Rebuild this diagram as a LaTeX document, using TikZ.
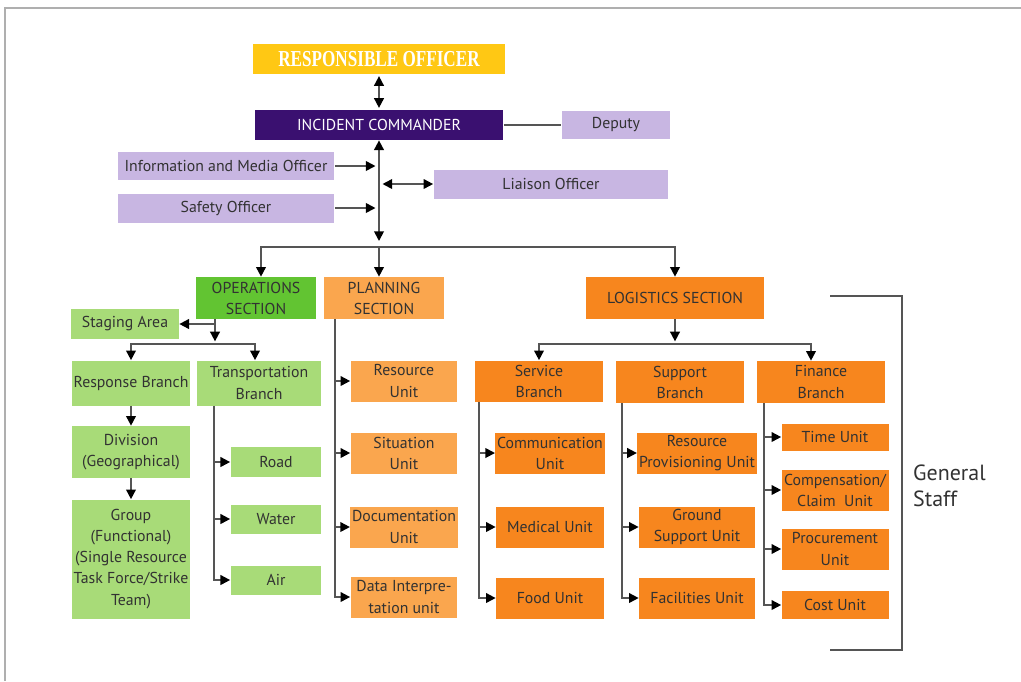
\documentclass[tikz,border=0pt]{standalone}
\usepackage{fontspec}
\setmainfont{PT Sans}
\newfontfamily\titlefont{Liberation Serif}
\usepackage{graphicx}
\usetikzlibrary{arrows.meta}

\definecolor{roYellow}{RGB}{255,200,20}
\definecolor{icPurple}{RGB}{58,16,112}
\definecolor{lightPurple}{RGB}{200,182,226}
\definecolor{opsGreen}{RGB}{98,196,50}
\definecolor{lightGreen}{RGB}{168,219,120}
\definecolor{planOrange}{RGB}{250,166,78}
\definecolor{logOrange}{RGB}{247,134,30}
\definecolor{boxText}{RGB}{50,50,50}
\definecolor{frameGray}{RGB}{175,175,175}
\definecolor{lineGray}{RGB}{85,85,85}

\tikzset{
  box/.style={inner sep=1pt, align=center, text=boxText, font=\fontsize{9}{12}\selectfont},
  robox/.style={box, fill=roYellow, text=white},
  icbox/.style={box, fill=icPurple, text=white},
  purplebox/.style={box, fill=lightPurple},
  opsbox/.style={box, fill=opsGreen},
  greenbox/.style={box, fill=lightGreen},
  planbox/.style={box, fill=planOrange},
  logbox/.style={box, fill=logOrange},
  plain/.style={draw=lineGray, line width=1pt},
  conn/.style={plain, -{Triangle[length=5.5pt,width=5.5pt,color=black]}},
  dbl/.style={plain, {Triangle[length=5.5pt,width=5.5pt,color=black]}-{Triangle[length=5.5pt,width=5.5pt,color=black]}},
  bracket/.style={draw=lineGray, line width=0.9pt},
  staffnote/.style={align=left, text=boxText, font=\fontsize{12.5}{15}\selectfont}
}

\begin{document}
\begin{tikzpicture}[x=0.02cm,y=-0.02cm]
  \useasboundingbox (0,0) rectangle (1021,681);
  \draw[frameGray, line width=1.2pt] (5,681) -- (5,8) -- (1021,8);

  \node[robox, minimum width=5.04cm, minimum height=0.6cm] (ro) at (379,59) {\scalebox{0.75}[1]{\titlefont\bfseries\fontsize{13}{14}\selectfont RESPONSIBLE OFFICER}};
  \node[icbox, minimum width=4.98cm, minimum height=0.6cm] (ic) at (379,125) {INCIDENT COMMANDER};
  \node[purplebox, minimum width=2.18cm, minimum height=0.56cm] (deputy) at (616,125) {Deputy};
  \node[purplebox, minimum width=4.34cm, minimum height=0.56cm] (info) at (226,166) {Information and Media Officer};
  \node[purplebox, minimum width=4.34cm, minimum height=0.58cm] (safety) at (226,208) {Safety Officer};
  \node[purplebox, minimum width=4.70cm, minimum height=0.58cm] (liaison) at (551,184) {Liaison Officer};

  \node[opsbox, minimum width=2.42cm, minimum height=0.84cm] (ops) at (256,298) {OPERATIONS\\SECTION};
  \node[planbox, minimum width=2.42cm, minimum height=0.84cm] (plan) at (384,298) {PLANNING\\SECTION};
  \node[logbox, minimum width=3.58cm, minimum height=0.84cm] (logi) at (675,298) {LOGISTICS SECTION};

  \node[greenbox, minimum width=2.16cm, minimum height=0.6cm] (staging) at (125,324) {Staging Area};
  \node[greenbox, minimum width=2.38cm, minimum height=0.9cm] (respbr) at (131,383) {Response Branch};
  \node[greenbox, minimum width=2.48cm, minimum height=0.9cm] (transbr) at (259,383) {Transportation\\Branch};
  \node[greenbox, minimum width=2.36cm, minimum height=1.04cm] (division) at (131,452) {Division\\(Geographical)};
  \node[greenbox, minimum width=2.36cm, minimum height=2.38cm] (group) at (131,559) {Group\\(Functional)\\(Single Resource\\Task Force/Strike\\Team)};
  \node[greenbox, minimum width=1.82cm, minimum height=0.6cm] (road) at (276,462) {Road};
  \node[greenbox, minimum width=1.82cm, minimum height=0.58cm] (water) at (276,519) {Water};
  \node[greenbox, minimum width=1.82cm, minimum height=0.58cm] (air) at (276,580) {Air};

  \node[planbox, minimum width=2.14cm, minimum height=0.82cm] (resunit) at (404,381) {Resource\\Unit};
  \node[planbox, minimum width=2.14cm, minimum height=0.82cm] (situnit) at (404,453) {Situation\\Unit};
  \node[planbox, minimum width=2.14cm, minimum height=0.82cm] (docunit) at (404,527) {Documentation\\Unit};
  \node[planbox, minimum width=2.14cm, minimum height=0.82cm] (dataunit) at (404,597) {Data Interpre-\\tation unit};

  \node[logbox, minimum width=2.58cm, minimum height=0.82cm] (servbr) at (539,381) {Service\\Branch};
  \node[logbox, minimum width=2.58cm, minimum height=0.84cm] (suppbr) at (680,382) {Support\\Branch};
  \node[logbox, minimum width=2.58cm, minimum height=0.84cm] (finbr) at (821,382) {Finance\\Branch};
  \node[logbox, minimum width=2.16cm, minimum height=0.82cm] (commu) at (550,453) {Communication\\Unit};
  \node[logbox, minimum width=2.16cm, minimum height=0.82cm] (medu) at (550,527) {Medical Unit};
  \node[logbox, minimum width=2.16cm, minimum height=0.82cm] (foodu) at (550,598) {Food Unit};
  \node[logbox, minimum width=2.32cm, minimum height=0.82cm] (resprov) at (697,453) {Resource\\Provisioning Unit};
  \node[logbox, minimum width=2.32cm, minimum height=0.82cm] (ground) at (697,527) {Ground\\Support Unit};
  \node[logbox, minimum width=2.32cm, minimum height=0.82cm] (facil) at (697,598) {Facilities Unit};
  \node[logbox, minimum width=2.14cm, minimum height=0.54cm] (timeu) at (835,437) {Time Unit};
  \node[logbox, minimum width=2.14cm, minimum height=0.82cm] (compu) at (835,490) {Compensation/\\Claim\ \ Unit};
  \node[logbox, minimum width=2.14cm, minimum height=0.82cm] (procu) at (835,549) {Procurement\\Unit};
  \node[logbox, minimum width=2.14cm, minimum height=0.56cm] (costu) at (835,605) {Cost Unit};

  \node[staffnote, anchor=west] (gstaff) at (907,486) {General\\Staff};

  \coordinate (hub) at (379,241);
  \coordinate (topbar) at (0,247);
  \coordinate (oa) at (261,0);
  \coordinate (ol) at (215,0);
  \coordinate (opsbar) at (0,344);
  \coordinate (ta) at (255,0);
  \coordinate (tl) at (214,0);
  \coordinate (pl) at (335,0);
  \coordinate (lbar) at (0,344);
  \coordinate (fa) at (811,0);
  \coordinate (sl) at (479,0);
  \coordinate (spl) at (622,0);
  \coordinate (fl) at (764,0);

  \draw[dbl, shorten <=1pt, shorten >=1pt] (ro.south) -- (ic.north);
  \draw[plain] (ic.east) -- (deputy.west);
  \draw[dbl] (ic.south) -- (hub);
  \draw[conn, shorten >=2pt] (info.east) -- (info.east -| hub);
  \draw[conn, shorten >=2pt] (safety.east) -- (safety.east -| hub);
  \draw[dbl, shorten <=2pt] (liaison.west -| hub) -- (liaison.west);
  \draw[conn] (hub |- topbar) -| (oa |- ops.north);
  \draw[conn] (hub |- topbar) -| (logi.north);
  \draw[conn] (hub |- topbar) -- (hub |- plan.north);

  \draw[plain] (ol |- ops.south) -- (ol |- staging.east);
  \draw[conn] (ol |- staging.east) -- (staging.east);
  \draw[conn, shorten >=1.5pt] (ol |- staging.east) -- (ol |- opsbar);
  \draw[conn] (ol |- opsbar) -| (respbr.north);
  \draw[conn] (ol |- opsbar) -| (ta |- transbr.north);
  \draw[conn] (respbr) -- (division);
  \draw[conn] (division) -- (group);
  \draw[conn] (tl |- transbr.south) |- (air.west);
  \foreach \n in {road,water}
    \draw[conn] (tl |- \n.west) -- (\n.west);

  \draw[conn] (pl |- plan.south) |- (dataunit.west);
  \foreach \n in {resunit,situnit,docunit}
    \draw[conn] (pl |- \n.west) -- (\n.west);

  \draw[conn, shorten >=1.5pt] (logi.south) -- (logi.south |- lbar);
  \draw[conn] (logi.south |- lbar) -| (servbr.north);
  \draw[conn] (logi.south |- lbar) -| (fa |- finbr.north);
  \draw[conn] (sl |- servbr.south) |- (foodu.west);
  \foreach \n in {commu,medu}
    \draw[conn] (sl |- \n.west) -- (\n.west);
  \draw[conn] (spl |- suppbr.south) |- (facil.west);
  \foreach \n in {resprov,ground}
    \draw[conn] (spl |- \n.west) -- (\n.west);
  \draw[conn] (fl |- finbr.south) |- (costu.west);
  \foreach \n in {timeu,compu,procu}
    \draw[conn] (fl |- \n.west) -- (\n.west);

  \draw[bracket] (830,296) -| (902,650) -- (830,650);
\end{tikzpicture}
\end{document}
